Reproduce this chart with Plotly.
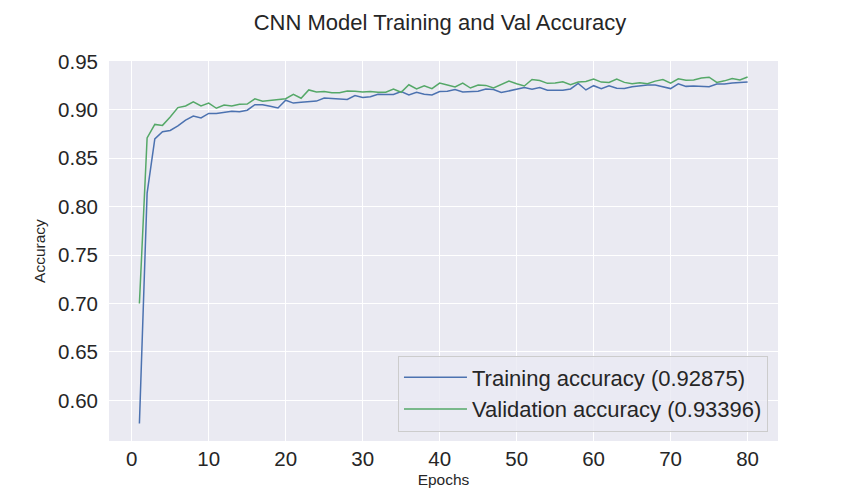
import plotly.graph_objects as go

epochs = list(range(1, 81))

train_acc = [
    0.576, 0.814, 0.870, 0.8774, 0.8787, 0.8834, 0.8895, 0.8936, 0.8916, 0.8963,
    0.8963, 0.8976, 0.8986, 0.8980, 0.8997, 0.9054, 0.9054, 0.9037, 0.9020, 0.9100,
    0.9070, 0.9078, 0.9088, 0.9091, 0.9122, 0.9118, 0.9118, 0.9108, 0.9149, 0.9128,
    0.9135, 0.9162, 0.9159, 0.9159, 0.9190, 0.9155, 0.9182, 0.9162, 0.9155, 0.9190,
    0.9193, 0.9210, 0.9186, 0.9186, 0.9193, 0.9216, 0.9210, 0.9179, 0.9196, 0.9210,
    0.9230, 0.9213, 0.9230, 0.9203, 0.9206, 0.9203, 0.9216, 0.9274, 0.9206, 0.9250,
    0.9220, 0.9250, 0.9223, 0.9220, 0.9240, 0.9250, 0.9257, 0.9257, 0.9240, 0.9220,
    0.9270, 0.9243, 0.9247, 0.9243, 0.9240, 0.9267, 0.9267, 0.9277, 0.9280, 0.92875,
]

val_acc = [
    0.700, 0.871, 0.885, 0.884, 0.8926, 0.9024, 0.9040, 0.9084, 0.9040, 0.9070,
    0.9017, 0.9050, 0.9040, 0.9057, 0.9060, 0.9115, 0.9090, 0.9100, 0.9110, 0.9115,
    0.9160, 0.9120, 0.9206, 0.9186, 0.9190, 0.9176, 0.9176, 0.9196, 0.9193, 0.9186,
    0.9190, 0.9182, 0.9182, 0.9216, 0.9182, 0.9260, 0.9216, 0.9250, 0.9220, 0.9277,
    0.9257, 0.9236, 0.9277, 0.9226, 0.9257, 0.9253, 0.9226, 0.9260, 0.9297, 0.9270,
    0.9247, 0.9314, 0.9304, 0.9274, 0.9277, 0.9290, 0.9260, 0.9287, 0.9294, 0.9318,
    0.9287, 0.9284, 0.9318, 0.9284, 0.9270, 0.9280, 0.9270, 0.9297, 0.9314, 0.9277,
    0.9321, 0.9307, 0.9310, 0.9330, 0.9338, 0.9284, 0.9300, 0.9324, 0.9310, 0.93396,
]

FONT = "Arial, Liberation Sans, sans-serif"

fig = go.Figure()
fig.add_trace(go.Scatter(x=epochs, y=train_acc, mode="lines",
                         name="Training accuracy (0.92875)",
                         line=dict(color="#4C72B0", width=1.5)))
fig.add_trace(go.Scatter(x=epochs, y=val_acc, mode="lines",
                         name="Validation accuracy (0.93396)",
                         line=dict(color="#55A868", width=1.5)))

# the page body adds an 8px offset, so margins are shifted to compensate
fig.update_layout(
    width=864, height=504,
    margin=dict(l=101, r=94, t=53, b=71),
    paper_bgcolor="white",
    plot_bgcolor="#EAEAF2",
    font=dict(family=FONT, color="#262626"),
    title=dict(text="CNN Model Training and Val Accuracy",
               x=0.5, xanchor="center", y=0.972, yanchor="middle",
               font=dict(size=22, color="#262626")),
    legend=dict(x=0.985, y=0.025, xanchor="right", yanchor="bottom",
                bgcolor="rgba(234,234,242,0.8)", bordercolor="#CCCCCC",
                borderwidth=1, font=dict(size=22, color="#262626"),
                itemwidth=63),
    showlegend=True,
)

fig.update_xaxes(range=[-2.95, 83.95], dtick=10, tick0=0,
                 showgrid=True, gridcolor="white", gridwidth=1.3,
                 zeroline=False, showline=False, ticks="",
                 tickfont=dict(size=20.5), ticklabelstandoff=3,
                 automargin=False,
                 title=dict(text="Epochs", font=dict(size=15.5), standoff=5))
fig.update_yaxes(range=[0.558, 0.9505], dtick=0.05, tick0=0.6,
                 tickformat=".2f",
                 showgrid=True, gridcolor="white", gridwidth=1.3,
                 zeroline=False, showline=False, ticks="",
                 tickfont=dict(size=20.5), ticklabelstandoff=10,
                 automargin=False,
                 title=dict(text="Accuracy", font=dict(size=15.5), standoff=8))

fig.write_html("out.html")
